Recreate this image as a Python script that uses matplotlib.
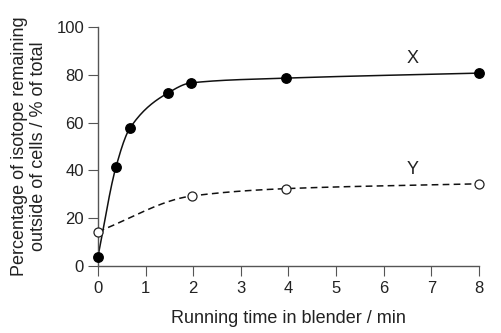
import numpy as np
import matplotlib.pyplot as plt

plt.rcParams['font.family'] = ['Liberation Sans', 'DejaVu Sans']

# blender running time (min) and isotope remaining outside cells (%)
time_x = [0, 0.38, 0.67, 1.48, 1.95, 3.96, 8]
pct_x = [3.8, 41.5, 57.6, 72.5, 76.6, 78.6, 80.7]
time_y = [0, 1.97, 3.96, 8]
pct_y = [14.4, 29.3, 32.4, 34.4]
xticks = [0, 1, 2, 3, 4, 5, 6, 7, 8]
yticks = [0, 20, 40, 60, 80, 100]


def smooth(xs, ys, n=300):
    # monotone cubic hermite (Fritsch-Carlson) for a smooth line through the points
    xs = np.asarray(xs, float)
    ys = np.asarray(ys, float)
    h = np.diff(xs)
    d = np.diff(ys) / h
    m = np.zeros_like(ys)
    m[0], m[-1] = d[0], d[-1]
    for i in range(1, len(xs) - 1):
        if d[i - 1] * d[i] <= 0:
            m[i] = 0
        else:
            w1 = 2 * h[i] + h[i - 1]
            w2 = h[i] + 2 * h[i - 1]
            m[i] = (w1 + w2) / (w1 / d[i - 1] + w2 / d[i])
    xx = np.linspace(xs[0], xs[-1], n)
    k = np.clip(np.searchsorted(xs, xx) - 1, 0, len(xs) - 2)
    t = (xx - xs[k]) / h[k]
    h00 = 2 * t**3 - 3 * t**2 + 1
    h10 = t**3 - 2 * t**2 + t
    h01 = -2 * t**3 + 3 * t**2
    h11 = t**3 - t**2
    yy = h00 * ys[k] + h10 * h[k] * m[k] + h01 * ys[k + 1] + h11 * h[k] * m[k + 1]
    return xx, yy


fig = plt.figure(figsize=(5.02, 3.33), dpi=100)
ax = fig.add_axes([0.195, 0.201, 0.759, 0.718])

sx, sy = smooth(time_x, pct_x)
ax.plot(sx, sy, color='#111111', lw=1.1, zorder=2, clip_on=False)
sx, sy = smooth(time_y, pct_y)
ax.plot(sx, sy, color='#111111', lw=1.1, ls=(0, (4.4, 2.8)), zorder=2, clip_on=False)

ax.plot(time_x, pct_x, 'o', ms=6.8, mfc='black', mec='black', zorder=3, clip_on=False)
ax.plot(time_y, pct_y, 'o', ms=6.5, mfc='white', mec='#222222', mew=0.9, zorder=3, clip_on=False)

ax.text(6.6, 87, 'X', fontsize=13, ha='center', va='center', color='#222222')
ax.text(6.6, 40.5, 'Y', fontsize=13, ha='center', va='center', color='#222222')

ax.set_xlim(0, 8)
ax.set_ylim(0, 100)
ax.set_xticks(xticks)
ax.set_yticks(yticks)
for s in ['top', 'right']:
    ax.spines[s].set_visible(False)
for s in ['left', 'bottom']:
    ax.spines[s].set_color('#555555')
    ax.spines[s].set_linewidth(1.0)
ax.tick_params(axis='both', length=7, color='#555555', labelsize=12, labelcolor='#222222')
ax.tick_params(axis='x', pad=4)
ax.tick_params(axis='y', pad=3)

ax.set_xlabel('Running time in blender / min', fontsize=13, color='#222222', labelpad=10)
ax.set_ylabel('Percentage of isotope remaining\noutside of cells / % of total',
              fontsize=13, color='#222222', labelpad=7, linespacing=1.1)

fig.savefig('out.png', dpi=100)
